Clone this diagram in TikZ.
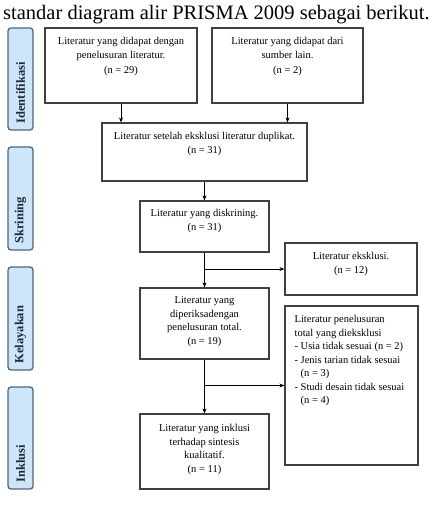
\documentclass[tikz,border=0pt]{standalone}
\usepackage{fontspec}
\setmainfont{Liberation Serif}
\usepackage{tikz}
\usepackage{xcolor}
\usetikzlibrary{arrows.meta}
\definecolor{barfill}{RGB}{205,230,250}
\definecolor{barline}{RGB}{82,100,122}
\definecolor{bartext}{RGB}{30,40,55}

\begin{document}
\begin{tikzpicture}[x=1pt,y=-1pt,
  bar/.style={draw=barline,fill=barfill,line width=1.3pt,rounded corners=3pt,minimum width=25pt},
  barlabel/.style={rotate=90,anchor=west,inner sep=0pt,text=bartext,font=\fontsize{12.5}{14}\selectfont\bfseries},
  flowbox/.style={draw=black!75,line width=1.2pt,fill=white},
  boxtext/.style={anchor=north,inner sep=0pt,align=center,font=\fontsize{10.5}{13.5}\selectfont},
  arr/.style={-{Stealth[length=5pt,width=4pt]},line width=0.9pt}]
\useasboundingbox (0,0) rectangle (432,505);
\node[anchor=base west,inner sep=0pt,font=\fontsize{20.5}{24}\selectfont] (title) at (3,19.5) {standar diagram alir PRISMA 2009 sebagai berikut.};
\node[bar,minimum height=102pt] (idf) at (20.5,79) {};
\node[barlabel] (idft) at ([yshift=7pt]idf.south) {Identifikasi};
\node[bar,minimum height=103pt] (skr) at (20.5,198.5) {};
\node[barlabel] (skrt) at ([yshift=7pt]skr.south) {Skrining};
\node[bar,minimum height=103pt] (kel) at (20.5,318.5) {};
\node[barlabel] (kelt) at ([yshift=7pt]kel.south) {Kelayakan};
\node[bar,minimum height=102pt] (ink) at (20.5,438) {};
\node[barlabel] (inkt) at ([yshift=7pt]ink.south) {Inklusi};
\node[flowbox,minimum width=152pt,minimum height=75pt] (b1) at (121,65.5) {};
\node[boxtext] (t1) at ([yshift=-10pt]b1.north) {Literatur yang didapat dengan\\penelusuran literatur.\\[1.5pt](n = 29)};
\node[flowbox,minimum width=151pt,minimum height=75pt] (b2) at (287.5,65.5) {};
\node[boxtext] (t2) at ([yshift=-10pt]b2.north) {Literatur yang didapat dari\\sumber lain.\\[1.5pt](n = 2)};
\node[flowbox,minimum width=205pt,minimum height=58pt] (b3) at (204.5,152) {};
\node[boxtext] (t3) at ([yshift=-10pt]b3.north) {Literatur setelah eksklusi literatur duplikat.\\(n = 31)};
\node[flowbox,minimum width=129pt,minimum height=51pt] (b4) at (204.5,226.5) {};
\node[boxtext] (t4) at ([yshift=-9pt]b4.north) {Literatur yang diskrining.\\(n = 31)};
\node[flowbox,minimum width=132pt,minimum height=52pt] (b5) at (351,269) {};
\node[boxtext] (t5) at ([yshift=-10pt]b5.north) {Literatur eksklusi.\\(n = 12)};
\node[flowbox,minimum width=129pt,minimum height=71pt] (b6) at (204.5,323.5) {};
\node[boxtext] (t6) at ([yshift=-9pt]b6.north) {Literatur yang\\diperiksadengan\\penelusuran total.\\(n = 19)};
\node[flowbox,minimum width=133pt,minimum height=159pt] (b7) at (351.5,385.5) {};
\node[boxtext,anchor=north west,align=left] (t7) at ([xshift=10pt,yshift=-10pt]b7.north west) {Literatur penelusuran\\total yang dieksklusi\\- Usia tidak sesuai (n = 2)\\- Jenis tarian tidak sesuai\\\phantom{- }(n = 3)\\- Studi desain tidak sesuai\\\phantom{- }(n = 4)};
\node[flowbox,minimum width=129pt,minimum height=75pt] (b8) at (204.5,451.5) {};
\node[boxtext] (t8) at ([yshift=-11pt]b8.north) {Literatur yang inklusi\\terhadap sintesis\\kualitatif.\\(n = 11)};
\draw[arr] (b1.south) -- (b1.south |- b3.north);
\draw[arr] (b2.south) -- (b2.south |- b3.north);
\draw[arr] (b3.south) -- (b4.north);
\draw[arr] (b4.south) -- (b6.north);
\draw[arr] (b4.south |- b5.west) -- (b5.west);
\draw[arr] (b6.south) -- (b8.north);
\draw[arr] (b6.south |- b7.west) -- (b7.west);
\end{tikzpicture}
\end{document}
